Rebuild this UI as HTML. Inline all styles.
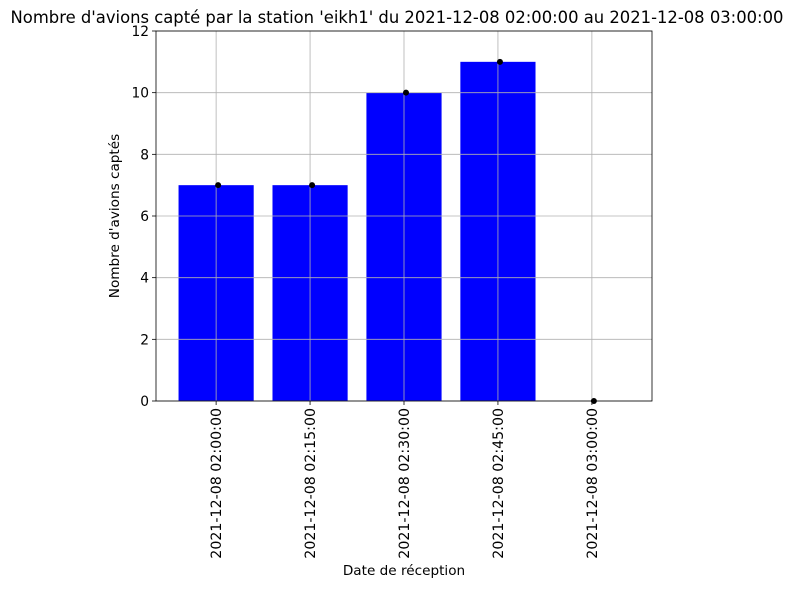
<!DOCTYPE html>
<html><head><meta charset="utf-8"><style>
body{margin:0;background:#fff;font-family:"Liberation Sans","DejaVu Sans",sans-serif;}
svg text{font-family:"DejaVu Sans","Liberation Sans",sans-serif;}
</style></head><body>
<svg id="chart" width="807" height="588" xmlns="http://www.w3.org/2000/svg">
<rect width="807" height="588" fill="#fff"/>
<text x="397" y="23" text-anchor="middle" font-size="16.4">Nombre d'avions capté par la station 'eikh1' du 2021-12-08 02:00:00 au 2021-12-08 03:00:00</text>
<g id="plot"></g>
<text x="404" y="575" text-anchor="middle" font-size="13.6">Date de réception</text>
<text transform="translate(119,216) rotate(-90)" text-anchor="middle" font-size="13.6">Nombre d'avions captés</text>
</svg>
<script>
const categories = ["2021-12-08 02:00:00","2021-12-08 02:15:00","2021-12-08 02:30:00","2021-12-08 02:45:00","2021-12-08 03:00:00"];
const counts = [7, 7, 10, 11, 0];
const yTicks = [0, 2, 4, 6, 8, 10, 12];

const NS = "http://www.w3.org/2000/svg";
const L = 156, R = 652, T = 31, B = 401;
const xMin = -0.64, xMax = 4.64, yMin = 0, yMax = 12;
const xs = v => L + (v - xMin) / (xMax - xMin) * (R - L);
const ys = v => B - (v - yMin) / (yMax - yMin) * (B - T);
const g = document.getElementById('plot');
function mk(tag, attrs, parent) {
  const e = document.createElementNS(NS, tag);
  for (const k in attrs) e.setAttribute(k, attrs[k]);
  (parent || g).appendChild(e);
  return e;
}
const bw = (xs(0.8) - xs(0));
counts.forEach((v, i) => {
  const r = mk('rect', {x: xs(i) - bw / 2, y: ys(v), width: bw, height: ys(0) - ys(v), fill: '#0000ff'});
  
  
});
yTicks.forEach(t => {
  const l = mk('line', {x1: L, x2: R, y1: ys(t), y2: ys(t), stroke: '#b0b0b0', 'stroke-width': 0.8});
  
  
  mk('line', {x1: L - 4, x2: L, y1: ys(t), y2: ys(t), stroke: '#000', 'stroke-width': 0.8});
  const tx = mk('text', {x: L - 7, y: ys(t) + 5, 'text-anchor': 'end', 'font-size': 13.8});
  tx.textContent = t;
  
  
});
categories.forEach((c, i) => {
  const x = xs(i);
  const l = mk('line', {x1: x, x2: x, y1: T, y2: B, stroke: '#b0b0b0', 'stroke-width': 0.8});
  
  
  mk('line', {x1: x, x2: x, y1: B, y2: B + 4, stroke: '#000', 'stroke-width': 0.8});
  const tx = mk('text', {transform: `translate(${x + 5},${B + 7}) rotate(-90)`, 'text-anchor': 'end', 'font-size': 14.2});
  tx.textContent = c;
  
  
});
counts.forEach((v, i) => {
  const p = mk('circle', {cx: xs(i) + 2, cy: ys(v), r: 3, fill: '#000'});
  
  
});
const frame = mk('rect', {x: L, y: T, width: R - L, height: B - T, fill: 'none', stroke: '#000', 'stroke-width': 0.8});


</script>
</body></html>
